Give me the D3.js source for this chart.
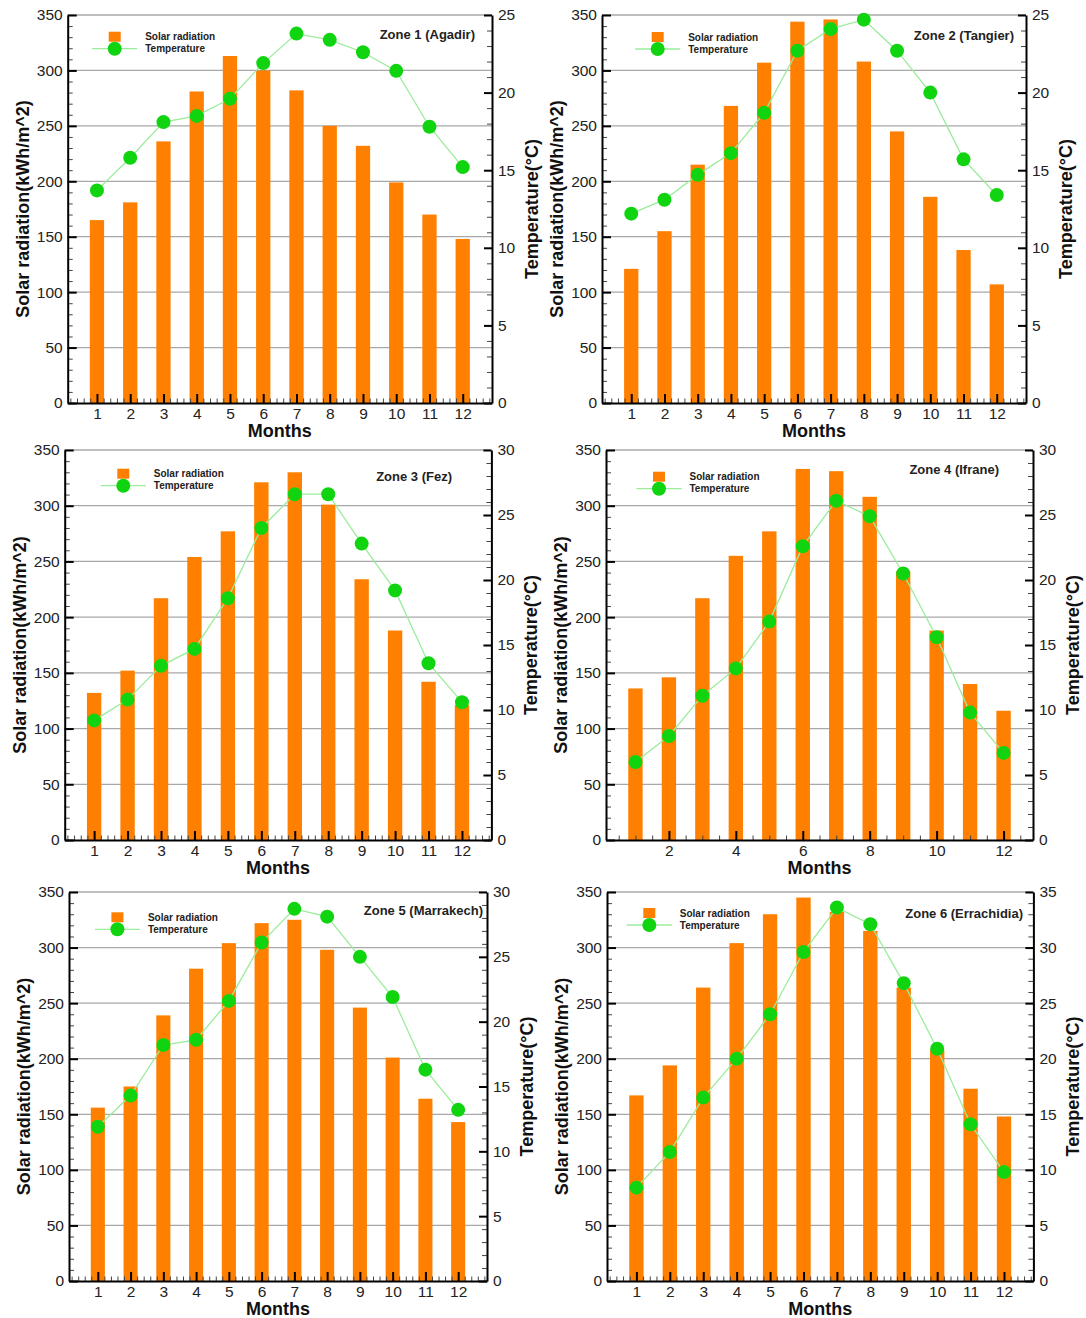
<!DOCTYPE html>
<html>
<head>
<meta charset="utf-8">
<script src="https://cdn.jsdelivr.net/npm/d3@7"></script>
<style>
  body { margin: 0; background: #fff; }
  svg { display: block; font-family: "Liberation Sans", Arial, sans-serif; }
  .tick text { fill: #222; font-size: 15.5px; }
</style>
</head>
<body>
<svg id="chart"></svg>
<script>
// data
const months = [1, 2, 3, 4, 5, 6, 7, 8, 9, 10, 11, 12];
const zoneNames = ["Zone 1 (Agadir)", "Zone 2 (Tangier)", "Zone 3 (Fez)",
  "Zone 4 (Ifrane)", "Zone 5 (Marrakech)", "Zone 6 (Errachidia)"];

const solar1 = [165, 181, 236, 281, 313, 300, 282, 250, 232, 199, 170, 148];
const solar2 = [121, 155, 215, 268, 307, 344, 346, 308, 245, 186, 138, 107];
const solar3 = [132, 152, 217, 254, 277, 321, 330, 301, 234, 188, 142, 121];
const solar4 = [136, 146, 217, 255, 277, 333, 331, 308, 241, 188, 140, 116];
const solar5 = [156, 175, 239, 281, 304, 322, 325, 298, 246, 201, 164, 143];
const solar6 = [167, 194, 264, 304, 330, 345, 332, 315, 264, 208, 173, 148];

const temp1 = [13.7, 15.8, 18.1, 18.5, 19.6, 21.9, 23.8, 23.4, 22.6, 21.4, 17.8, 15.2];
const temp2 = [12.2, 13.1, 14.7, 16.1, 18.7, 22.7, 24.1, 24.7, 22.7, 20.0, 15.7, 13.4];
const temp3 = [9.2, 10.8, 13.4, 14.7, 18.6, 24.0, 26.6, 26.6, 22.8, 19.2, 13.6, 10.6];
const temp4 = [6.0, 8.0, 11.1, 13.2, 16.8, 22.6, 26.1, 24.9, 20.5, 15.6, 9.8, 6.7];
const temp5 = [11.9, 14.3, 18.2, 18.6, 21.6, 26.1, 28.7, 28.1, 25.0, 21.9, 16.3, 13.2];
const temp6 = [8.4, 11.6, 16.5, 20.0, 24.0, 29.6, 33.6, 32.1, 26.8, 20.9, 14.1, 9.8];

const solarTicks = [0, 50, 100, 150, 200, 250, 300, 350];
const tempMax = [25, 25, 30, 30, 30, 35];
const monthTicksAll = months;
const monthTicksEven = [2, 4, 6, 8, 10, 12];

const solarAll = [solar1, solar2, solar3, solar4, solar5, solar6];
const tempAll = [temp1, temp2, temp3, temp4, temp5, temp6];

// panel placement (pixels)
const layout = [
  { x0: 67.7, x1: 492, y0: 15, y1: 403, lx: 114.7, ly: 48.7, tx: 475, ty: 39, even: false },
  { x0: 602, x1: 1026, y0: 15, y1: 403, lx: 657.7, ly: 49, tx: 1014, ty: 40, even: false },
  { x0: 64.7, x1: 491.4, y0: 450, y1: 840, lx: 123.3, ly: 485.7, tx: 452, ty: 481, even: false },
  { x0: 606, x1: 1033, y0: 450, y1: 840, lx: 659, ly: 488.7, tx: 999, ty: 474, even: true },
  { x0: 69, x1: 487, y0: 892, y1: 1281, lx: 117.4, ly: 929.3, tx: 483, ty: 915, even: false },
  { x0: 607, x1: 1033.4, y0: 892, y1: 1281, lx: 649.3, ly: 925, tx: 1023, ty: 918, even: false }
];

const W = 1086, H = 1318;
const barColor = "#ff8000";
const dotColor = "#11d411";
const lineColor = "#9bec9b";

const svg = d3.select("#chart").attr("width", W).attr("height", H);
svg.append("rect").attr("width", W).attr("height", H).attr("fill", "#fff");

function styleAxis(g, width) {
  g.select(".domain").attr("stroke", "#000").attr("stroke-width", width);
  g.selectAll(".tick line").attr("stroke", "#000").attr("stroke-width", 2);
}

function styleMinor(g) {
  g.select(".domain").remove();
  g.selectAll(".tick line").attr("stroke", "#444").attr("stroke-width", 1);
}

layout.forEach((p, i) => {
  const g = svg.append("g");
  const x = d3.scaleLinear().domain([0.12, 12.88]).range([p.x0, p.x1]);
  const y = d3.scaleLinear().domain([0, 350]).range([p.y1, p.y0]);
  const yT = d3.scaleLinear().domain([0, tempMax[i]]).range([p.y1, p.y0]);
  const bw = (x(2) - x(1)) * 0.43;

  // gridlines
  g.append("g").selectAll("line")
    .data(solarTicks.filter(d => d > 0))
    .join("line")
    .attr("x1", p.x0).attr("x2", p.x1)
    .attr("y1", d => y(d)).attr("y2", d => y(d))
    .attr("stroke", "#a8a8a8").attr("stroke-width", 1.3);

  // bars
  g.append("g").selectAll("rect")
    .data(solarAll[i])
    .join("rect")
    .attr("x", (d, k) => x(months[k]) - bw / 2)
    .attr("y", d => y(d))
    .attr("width", bw)
    .attr("height", d => y(0) - y(d))
    .attr("fill", barColor);

  // minor ticks
  const leftMinor = d3.range(0, 351, 10).filter(d => d % 50 !== 0);
  g.append("g").attr("transform", `translate(${p.x0},0)`)
    .call(d3.axisLeft(y).tickValues(leftMinor).tickSize(-5).tickFormat(""))
    .call(styleMinor);
  const rightMinor = d3.range(0, tempMax[i] + 1, 1).filter(d => d % 5 !== 0);
  g.append("g").attr("transform", `translate(${p.x1},0)`)
    .call(d3.axisRight(yT).tickValues(rightMinor).tickSize(-5).tickFormat(""))
    .call(styleMinor);
  const step = p.even ? 0.5 : 0.2;
  const botMinor = d3.range(1, 65).map(k => +(k * step).toFixed(2))
    .filter(d => d < 12.88 && (p.even ? d % 2 !== 0 : !Number.isInteger(d)));
  g.append("g").attr("transform", `translate(0,${p.y1})`)
    .call(d3.axisBottom(x).tickValues(botMinor).tickSize(-4.5).tickFormat(""))
    .call(styleMinor);

  // main axes
  g.append("g").attr("transform", `translate(${p.x0},0)`)
    .call(d3.axisLeft(y).tickValues(solarTicks).tickSizeInner(-9).tickSizeOuter(0).tickPadding(5))
    .call(a => styleAxis(a, 2));
  g.append("g").attr("transform", `translate(${p.x1},0)`)
    .call(d3.axisRight(yT).tickValues(d3.range(0, tempMax[i] + 1, 5)).tickSizeInner(-8).tickSizeOuter(0).tickPadding(6))
    .call(a => styleAxis(a, 2));
  g.append("g").attr("transform", `translate(0,${p.y1})`)
    .call(d3.axisBottom(x).tickValues(p.even ? monthTicksEven : monthTicksAll).tickSizeInner(-9).tickSizeOuter(0).tickPadding(5))
    .call(a => styleAxis(a, 2));
  g.selectAll(".tick text").attr("font-family", null).attr("font-size", null);

  // temperature line
  const line = d3.line().x((d, k) => x(months[k])).y(d => yT(d));
  g.append("path").datum(tempAll[i])
    .attr("d", line).attr("fill", "none")
    .attr("stroke", lineColor).attr("stroke-width", 1.3);
  g.append("g").selectAll("circle")
    .data(tempAll[i])
    .join("circle")
    .attr("cx", (d, k) => x(months[k]))
    .attr("cy", d => yT(d))
    .attr("r", 7)
    .attr("fill", dotColor);

  // legend
  const lg = g.append("g").attr("transform", `translate(${p.lx},${p.ly})`);
  lg.append("rect").attr("x", -6).attr("y", -17).attr("width", 12).attr("height", 10).attr("fill", barColor);
  lg.append("line").attr("x1", -22.5).attr("x2", 22.5).attr("y1", 0).attr("y2", 0)
    .attr("stroke", lineColor).attr("stroke-width", 1.3);
  lg.append("circle").attr("r", 7).attr("fill", dotColor);
  lg.append("text").attr("x", 30.5).attr("y", -8.5)
    .attr("font-size", 10).attr("font-weight", "bold").attr("fill", "#222")
    .text("Solar radiation");
  lg.append("text").attr("x", 30.5).attr("y", 3.5)
    .attr("font-size", 10).attr("font-weight", "bold").attr("fill", "#222")
    .text("Temperature");

  // title
  g.append("text").attr("x", p.tx).attr("y", p.ty)
    .attr("text-anchor", "end").attr("font-size", 13).attr("font-weight", "bold")
    .attr("fill", "#222").text(zoneNames[i]);

  // axis titles
  const cy = (p.y0 + p.y1) / 2;
  g.append("text")
    .attr("transform", `translate(${p.x0 - 39},${cy}) rotate(-90)`)
    .attr("text-anchor", "middle").attr("font-size", 18).attr("font-weight", "bold")
    .attr("fill", "#111").text("Solar radiation(kWh/m^2)");
  g.append("text")
    .attr("transform", `translate(${p.x1 + 46},${cy}) rotate(-90)`)
    .attr("text-anchor", "middle").attr("font-size", 18).attr("font-weight", "bold")
    .attr("fill", "#111").text("Temperature(°C)");
  g.append("text")
    .attr("x", (p.x0 + p.x1) / 2).attr("y", p.y1 + 34)
    .attr("text-anchor", "middle").attr("font-size", 18).attr("font-weight", "bold")
    .attr("fill", "#111").text("Months");
});
</script>
</body>
</html>
